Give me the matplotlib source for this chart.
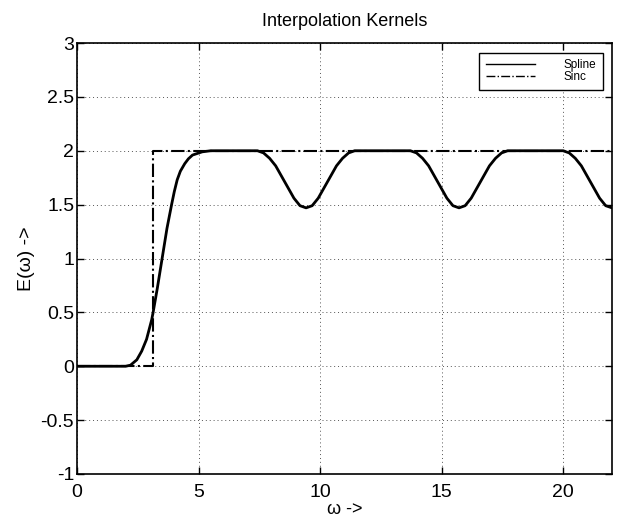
import matplotlib
matplotlib.use("Agg")
import matplotlib.pyplot as plt

plt.rcParams['font.family'] = ['Liberation Sans', 'DejaVu Sans']

# Spline kernel response
spline_w = [0.0, 1.0, 2.0, 2.2, 2.46, 2.66, 2.86, 3.07, 3.13, 3.3, 3.5, 3.7, 3.89, 4.0, 4.12, 4.25, 4.43, 4.58, 4.75, 5.15, 5.5, 6.0,
            7.0, 7.42, 7.67, 7.92, 8.17, 8.42, 8.67, 8.92, 9.17, 9.42,
            9.67, 9.92, 10.17, 10.42, 10.67, 10.92, 11.17, 11.42, 12.5,
            13.3, 13.71, 13.96, 14.21, 14.46, 14.71, 14.96, 15.21, 15.46, 15.71,
            15.96, 16.21, 16.46, 16.71, 16.96, 17.21, 17.46, 17.71, 19.0,
            19.99, 20.24, 20.49, 20.74, 20.99, 21.24, 21.49, 21.74, 22.0]
spline_e = [0.0, 0.0, 0.0, 0.01, 0.06, 0.14, 0.25, 0.43, 0.5, 0.72, 1.0, 1.28, 1.5, 1.62, 1.73, 1.81, 1.88, 1.925, 1.96, 1.99, 2.0, 2.0,
            2.0, 2.0, 1.98, 1.93, 1.86, 1.76, 1.66, 1.56, 1.49, 1.47,
            1.49, 1.56, 1.66, 1.76, 1.86, 1.93, 1.98, 2.0, 2.0,
            2.0, 2.0, 1.98, 1.93, 1.86, 1.76, 1.66, 1.56, 1.49, 1.47,
            1.49, 1.56, 1.66, 1.76, 1.86, 1.93, 1.98, 2.0, 2.0,
            2.0, 1.98, 1.93, 1.86, 1.76, 1.66, 1.56, 1.49, 1.47]

# Sinc kernel response (ideal step)
sinc_w = [0.0, 3.14, 3.14, 22.0]
sinc_e = [0.0, 0.0, 2.0, 2.0]

xticks = [0, 5, 10, 15, 20]
yticks = [-1, -0.5, 0, 0.5, 1, 1.5, 2, 2.5, 3]
ytick_labels = ['-1', '-0.5', '0', '0.5', '1', '1.5', '2', '2.5', '3']

fig = plt.figure(figsize=(6.2, 5.17), dpi=100)
ax = fig.add_axes([77/620, 43/517, 535/620, 431/517])

ax.plot(spline_w, spline_e, color='black', lw=2.0, label='Spline', solid_joinstyle='round')
ax.plot(sinc_w, sinc_e, color='black', lw=1.5, linestyle='-.', label='Sinc')

ax.set_xlim(0, 22)
ax.set_ylim(-1, 3)
ax.set_xticks(xticks)
ax.set_xticklabels([str(t) for t in xticks])
ax.set_yticks(yticks)
ax.set_yticklabels(ytick_labels)
ax.tick_params(direction='in', top=True, right=True, labelsize=14, length=5, width=1)
ax.tick_params(axis='x', pad=7)
ax.tick_params(axis='y', pad=2)
ax.grid(True, color='#555555', linestyle=(0, (1, 3)), linewidth=0.7)
for s in ax.spines.values():
    s.set_linewidth(1.2)

ax.set_title('Interpolation Kernels', fontsize=13, pad=12)
ax.set_xlabel('ω ->', fontsize=13, labelpad=0)
ax.set_ylabel('E(ω) ->', fontsize=14, labelpad=4)

leg = ax.legend(loc='upper right', bbox_to_anchor=(1 - 9/535, 1 - 10/431), borderaxespad=0,
                fontsize=8.5, handlelength=4.15, handletextpad=2.45, labelspacing=0.0,
                borderpad=0.55, fancybox=False, framealpha=1, edgecolor='black')
leg.get_frame().set_linewidth(1.0)
for ln in leg.get_lines():
    ln.set_linewidth(1.0)

fig.savefig('out.png', dpi=100)
